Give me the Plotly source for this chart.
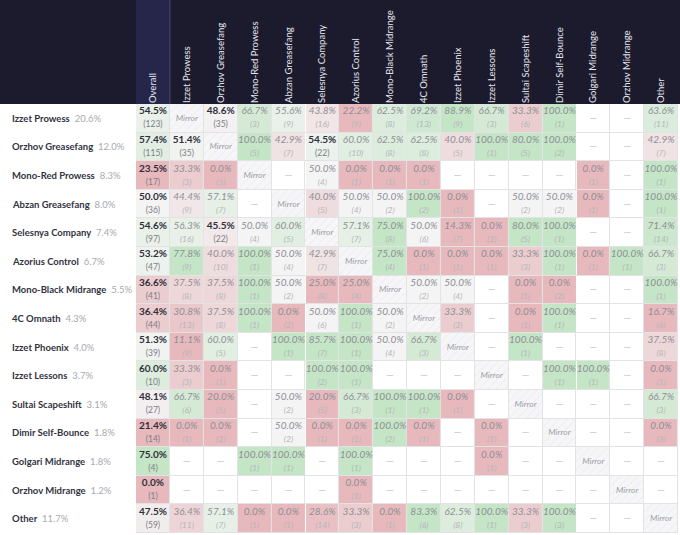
import plotly.graph_objects as go

decks = ["Izzet Prowess", "Orzhov Greasefang", "Mono-Red Prowess", "Abzan Greasefang",
         "Selesnya Company", "Azorius Control", "Mono-Black Midrange", "4C Omnath",
         "Izzet Phoenix", "Izzet Lessons", "Sultai Scapeshift", "Dimir Self-Bounce",
         "Golgari Midrange", "Orzhov Midrange", "Other"]
shares = [20.6, 12.0, 8.3, 8.0, 7.4, 6.7, 5.5, 4.3, 4.0, 3.7, 3.1, 1.8, 1.8, 1.2, 11.7]
overall_pct = [54.5, 57.4, 23.5, 50.0, 54.6, 53.2, 36.6, 36.4, 51.3, 60.0, 48.1, 21.4, 75.0, 0.0, 47.5]
overall_n = [123, 115, 17, 36, 97, 47, 41, 44, 39, 10, 27, 14, 4, 1, 59]

N = None
# rows = deck, columns = opponent (same order as decks); diagonal = mirror
matchup_pct = [
    [N, 48.6, 66.7, 55.6, 43.8, 22.2, 62.5, 69.2, 88.9, 66.7, 33.3, 100.0, N, N, 63.6],
    [51.4, N, 100.0, 42.9, 54.5, 60.0, 62.5, 62.5, 40.0, 100.0, 80.0, 100.0, N, N, 42.9],
    [33.3, 0.0, N, N, 50.0, 0.0, 0.0, 0.0, N, N, N, N, 0.0, N, 100.0],
    [44.4, 57.1, N, N, 40.0, 50.0, 50.0, 100.0, 0.0, N, 50.0, 50.0, 0.0, N, 100.0],
    [56.3, 45.5, 50.0, 60.0, N, 57.1, 75.0, 50.0, 14.3, 0.0, 80.0, 100.0, N, N, 71.4],
    [77.8, 40.0, 100.0, 50.0, 42.9, N, 75.0, 0.0, 0.0, 0.0, 33.3, 100.0, 0.0, 100.0, 66.7],
    [37.5, 37.5, 100.0, 50.0, 25.0, 25.0, N, 50.0, 50.0, N, 0.0, 0.0, N, N, 100.0],
    [30.8, 37.5, 100.0, 0.0, 50.0, 100.0, 50.0, N, 33.3, N, 0.0, 100.0, N, N, 16.7],
    [11.1, 60.0, N, 100.0, 85.7, 100.0, 50.0, 66.7, N, N, 100.0, N, N, N, 37.5],
    [33.3, 0.0, N, N, 100.0, 100.0, N, N, N, N, N, 100.0, 100.0, N, 0.0],
    [66.7, 20.0, N, 50.0, 20.0, 66.7, 100.0, 100.0, 0.0, N, N, N, N, N, 66.7],
    [0.0, 0.0, N, 50.0, 0.0, 0.0, 100.0, 0.0, N, 0.0, N, N, N, N, 0.0],
    [N, N, 100.0, 100.0, N, 100.0, N, N, N, 0.0, N, N, N, N, N],
    [N, N, N, N, N, 0.0, N, N, N, N, N, N, N, N, N],
    [36.4, 57.1, 0.0, 0.0, 28.6, 33.3, 0.0, 83.3, 62.5, 100.0, 33.3, 100.0, N, N, N],
]
matchup_n = [
    [N, 35, 3, 9, 16, 9, 8, 13, 9, 3, 6, 1, N, N, 11],
    [35, N, 5, 7, 22, 10, 8, 8, 5, 1, 5, 2, N, N, 7],
    [3, 5, N, N, 4, 1, 1, 1, N, N, N, N, 1, N, 1],
    [9, 7, N, N, 5, 4, 2, 2, 1, N, 2, 2, 1, N, 1],
    [16, 22, 4, 5, N, 7, 8, 6, 7, 2, 5, 1, N, N, 14],
    [9, 10, 1, 4, 7, N, 4, 1, 1, 1, 3, 1, 1, 1, 3],
    [8, 8, 1, 2, 8, 4, N, 2, 4, N, 1, 2, N, N, 1],
    [13, 8, 1, 2, 6, 1, 2, N, 3, N, 1, 1, N, N, 6],
    [9, 5, N, 1, 7, 1, 4, 3, N, N, 1, N, N, N, 8],
    [3, 1, N, N, 2, 1, N, N, N, N, N, 1, 1, N, 1],
    [6, 5, N, 2, 5, 3, 1, 1, 1, N, N, N, N, N, 3],
    [1, 2, N, 2, 1, 1, 2, 1, N, 1, N, N, N, N, 3],
    [N, N, 1, 1, N, 1, N, N, N, 1, N, N, N, N, N],
    [N, N, N, N, N, 1, N, N, N, N, N, N, N, N, N],
    [11, 7, 1, 1, 14, 3, 1, 6, 8, 1, 3, 3, N, N, N],
]
columns = ["Overall"] + decks

FONT = "Lato"
W, H = 680, 535
ML, MR, MT, MB = 136, 2, 104, 2
PW, PH = W - ML - MR, H - MT - MB
nrows, ncols = len(decks), len(columns)
rows_idx = list(range(nrows))
cols_idx = list(range(ncols))

scale = [[0, "rgb(231,185,189)"], [0.5, "rgb(244,244,244)"], [1, "rgb(196,229,198)"]]
white = [[0, "#ffffff"], [1, "#ffffff"]]

fig = go.Figure()

# white background cells (missing matchups)
fig.add_trace(go.Heatmap(
    x=cols_idx, y=rows_idx, z=[[0] * ncols for _ in rows_idx], colorscale=white,
    showscale=False, xgap=1, ygap=1, hoverinfo="skip"))

# overall column
fig.add_trace(go.Heatmap(
    x=[0], y=rows_idx, z=[[v] for v in overall_pct], colorscale=scale,
    zmin=30, zmax=70, showscale=False, xgap=1, ygap=1, hoverinfo="skip"))

# matchup cells
fig.add_trace(go.Heatmap(
    x=cols_idx[1:], y=rows_idx, z=matchup_pct, colorscale=scale,
    zmin=25, zmax=75, showscale=False, xgap=1, ygap=1, hoverinfo="skip"))

# mirror cells (hatched)
fig.add_trace(go.Bar(
    x=[i + 1 for i in rows_idx], y=[1] * nrows, base=[i - 0.5 for i in rows_idx],
    width=1, marker=dict(color="#f6f6f8", line=dict(color="#e3e3e6", width=1),
                         pattern=dict(shape="/", fgcolor="#d8d8de", size=6, solidity=0.12)),
    hoverinfo="skip", showlegend=False))

tx, ty, tt = [], [], []

def strong_text(p, n):
    return (f"<b>{p:.1f}%</b><br>"
            f"<span style='font-size:8.5px;color:#7d7d85'>({n})</span>")

def weak_text(p, n):
    return (f"<i><span style='color:#8e8e96'>{p:.1f}%</span></i><br>"
            f"<i><span style='font-size:8.5px;color:#b4b4ba'>({n})</span></i>")

for i in rows_idx:
    tx.append(0); ty.append(i); tt.append(strong_text(overall_pct[i], overall_n[i]))
    for j in range(nrows):
        p, n = matchup_pct[i][j], matchup_n[i][j]
        tx.append(j + 1); ty.append(i)
        if i == j:
            tt.append("<i><span style='font-size:8.5px;color:#9d9da6'>Mirror</span></i>")
        elif p is None:
            tt.append("<span style='color:#c4c4c8'>—</span>")
        elif n >= 20:
            tt.append(strong_text(p, n))
        else:
            tt.append(weak_text(p, n))

fig.add_trace(go.Scatter(
    x=tx, y=ty, text=tt, mode="text", textposition="middle center",
    textfont=dict(family=FONT, size=10, color="#2f2f3b"),
    hoverinfo="skip", showlegend=False))

# row labels
for i, (d, s) in enumerate(zip(decks, shares)):
    fig.add_annotation(
        x=-(ML - 10) / PW, xref="paper", y=i, yref="y", xanchor="left", yanchor="middle",
        text=f"<b>{d}</b>  <span style='color:#a9a9b0'>{s:.1f}%</span>",
        showarrow=False, font=dict(family=FONT, size=9.5, color="#33333f"))

top = 1 + MT / PH
shapes = [
    dict(type="rect", xref="paper", yref="paper", x0=-ML / PW, x1=1 + MR / PW, y0=1, y1=top,
         fillcolor="#1c1b2e", line=dict(width=0), layer="below"),
    dict(type="rect", xref="paper", yref="paper", x0=0, x1=1 / ncols, y0=1, y1=top,
         fillcolor="#25264a", line=dict(width=0), layer="below"),
    dict(type="line", xref="paper", yref="paper", x0=1 / ncols, x1=1 / ncols, y0=1, y1=top,
         line=dict(color="#4a4a66", width=1), layer="below"),
]

fig.update_layout(
    width=W, height=H, margin=dict(l=ML, r=MR, t=MT, b=MB),
    paper_bgcolor="#ffffff", plot_bgcolor="#e3e3e6",
    showlegend=False, shapes=shapes, bargap=0,
    font=dict(family=FONT),
    xaxis=dict(range=[-0.5, ncols - 0.5], side="top", tickmode="array", tickvals=cols_idx,
               ticktext=columns, tickangle=-90, showgrid=False, zeroline=False, ticks="",
               tickfont=dict(family=FONT, size=9.5, color="#e6e6ee"), fixedrange=True),
    yaxis=dict(range=[nrows - 0.5, -0.5], showticklabels=False, showgrid=False,
               zeroline=False, ticks="", fixedrange=True),
)

fig.write_html(
    "out.html",
    config={"displayModeBar": False},
    post_script="document.body.style.margin='0';document.body.style.overflow='hidden';",
)
